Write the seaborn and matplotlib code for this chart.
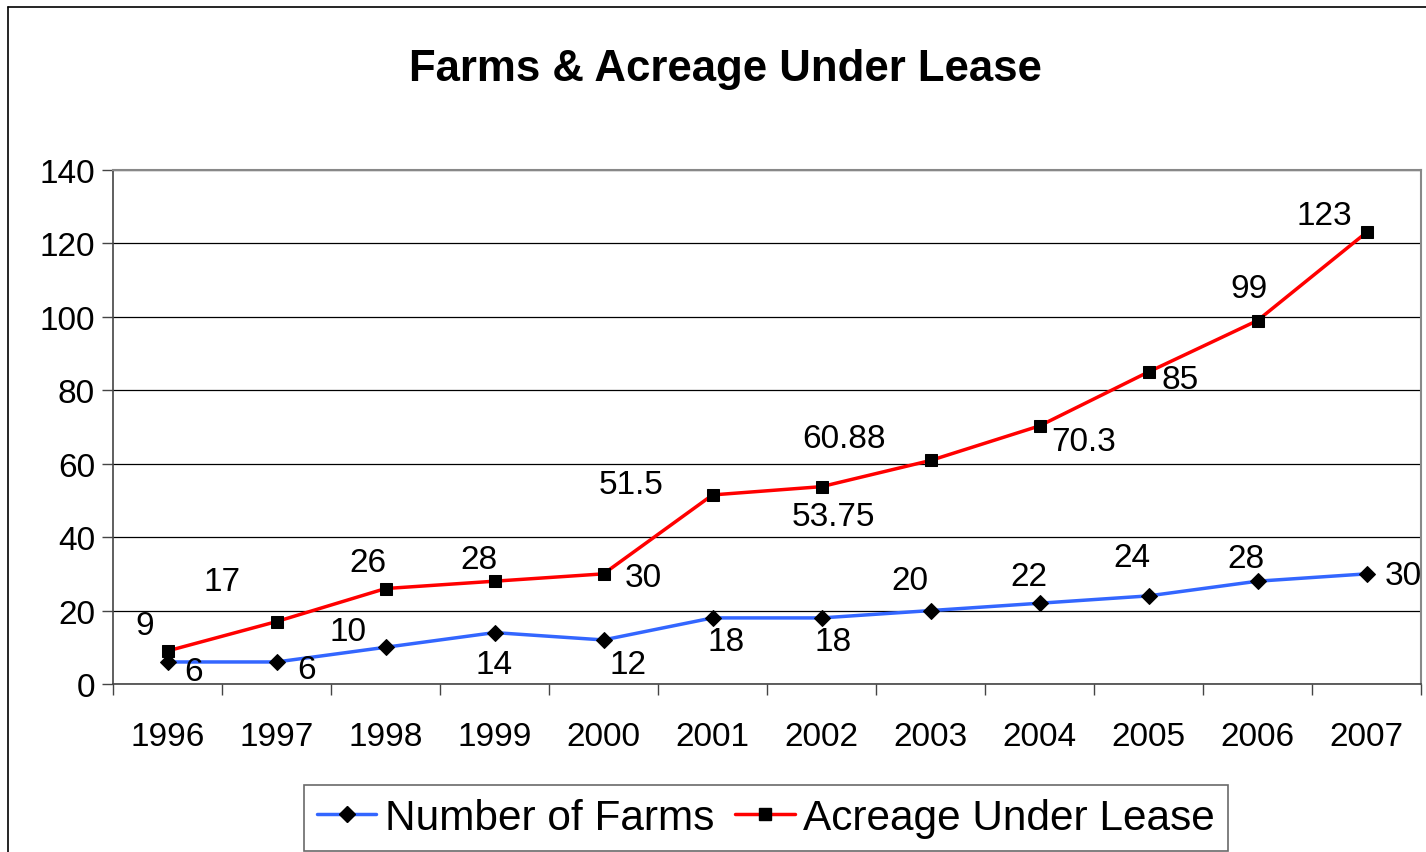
import matplotlib
matplotlib.use("Agg")
import matplotlib.pyplot as plt
from matplotlib.lines import Line2D
import seaborn as sns
import pandas as pd

years = ["1996", "1997", "1998", "1999", "2000", "2001", "2002", "2003", "2004", "2005", "2006", "2007"]
farms = [6, 6, 10, 14, 12, 18, 18, 20, 22, 24, 28, 30]
acreage = [9, 17, 26, 28, 30, 51.5, 53.75, 60.88, 70.3, 85, 99, 123]
farm_labels = ["6", "6", "10", "14", "12", "18", "18", "20", "22", "24", "28", "30"]
acre_labels = ["9", "17", "26", "28", "30", "51.5", "53.75", "60.88", "70.3", "85", "99", "123"]

# label offsets in pixels (dx, dy up)
farm_off = [(26, -10), (30, -8), (-37, 16), (0, -32), (25, -25), (14, -24), (12, -24),
            (-21, 30), (-11, 27), (-17, 38), (-12, 23), (37, -2)]
acre_off = [(-23, 25), (-55, 40), (-18, 26), (-16, 22), (40, -4), (-81, 10), (12, -30),
            (-87, 22), (44, -16), (32, -8), (-8, 32), (-42, 17)]

sns.set_theme(style="white")
plt.rcParams['font.family'] = ['Liberation Sans', 'DejaVu Sans']
plt.rcParams['text.color'] = 'black'
plt.rcParams['xtick.color'] = 'black'
plt.rcParams['ytick.color'] = 'black'
plt.rcParams['axes.labelcolor'] = 'black'

df = pd.DataFrame({
    "Year": years * 2,
    "Value": farms + acreage,
    "Series": ["Number of Farms"] * len(years) + ["Acreage Under Lease"] * len(years),
})

fig = plt.figure(figsize=(14.26, 8.53), dpi=100)
ax = fig.add_axes([113 / 1426, 1 - 685 / 853, (1421 - 113) / 1426, (685 - 171) / 853])

sns.lineplot(data=df, x="Year", y="Value", hue="Series", style="Series",
             palette={"Number of Farms": "#3366FF", "Acreage Under Lease": "#FF0000"},
             markers={"Number of Farms": "D", "Acreage Under Lease": "s"},
             dashes=False, linewidth=2.5, markersize=9, markerfacecolor="black",
             markeredgecolor="black", ax=ax, legend=False, sort=False)
lines = ax.get_lines()
for ln in lines:
    ln.set_markerfacecolor("black")
    ln.set_markeredgecolor("black")
if len(lines) >= 2:
    lines[0].set_markersize(8)
    lines[1].set_markersize(9)

for i in range(len(years)):
    ax.annotate(farm_labels[i], (i, farms[i]), xytext=farm_off[i], textcoords="offset pixels",
                ha="center", va="center", fontsize=24, color="black")
    ax.annotate(acre_labels[i], (i, acreage[i]), xytext=acre_off[i], textcoords="offset pixels",
                ha="center", va="center", fontsize=24, color="black")

ax.set_xlim(-0.5, len(years) - 0.5)
ax.set_ylim(0, 140)
ax.set_yticks(range(0, 141, 20))
ax.set_xticks(range(len(years)))
ax.set_xticklabels(years)
ax.set_xticks([i - 0.5 for i in range(len(years) + 1)], minor=True)
ax.tick_params(axis="x", which="major", length=0, pad=27, labelsize=24, labelcolor="black")
ax.tick_params(axis="x", which="minor", length=8, width=1, color="#444444", direction="out", bottom=True)
ax.tick_params(axis="y", which="major", length=8, width=1, color="#444444", direction="out", left=True,
               labelsize=24, pad=5, labelcolor="black")
ax.set_xlabel("")
ax.set_ylabel("")
ax.yaxis.grid(True, color="black", linewidth=0.9)
ax.xaxis.grid(False)
ax.set_axisbelow(True)
for s in ["top", "right"]:
    ax.spines[s].set_color("#888888")
    ax.spines[s].set_linewidth(1.5)
for s in ["left", "bottom"]:
    ax.spines[s].set_color("#444444")
    ax.spines[s].set_linewidth(1.2)

fig.text(725 / 1426, 1 - 69 / 853, "Farms & Acreage Under Lease", ha="center", va="center",
         fontsize=31.5, fontweight="bold", color="black")

handles = [
    Line2D([], [], color="#3366FF", linewidth=2.5, marker="D", markersize=8,
           markerfacecolor="black", markeredgecolor="black"),
    Line2D([], [], color="#FF0000", linewidth=2.5, marker="s", markersize=8,
           markerfacecolor="black", markeredgecolor="black"),
]
leg = fig.legend(handles, ["Number of Farms", "Acreage Under Lease"], loc="center",
                 bbox_to_anchor=(766 / 1426, 1 - 819 / 853), ncol=2, fontsize=30.5,
                 frameon=True, fancybox=False, edgecolor="#444444", handlelength=1.4,
                 handletextpad=0.2, columnspacing=0.5, borderpad=0.3, borderaxespad=0)
leg.get_frame().set_linewidth(1.2)
for t in leg.get_texts():
    t.set_color("black")

# outer chart border
fig.add_artist(Line2D([8 / 1426, 8 / 1426], [0, 1 - 8 / 853], transform=fig.transFigure,
                      color="black", linewidth=1.2))
fig.add_artist(Line2D([8 / 1426, 1], [1 - 8 / 853, 1 - 8 / 853], transform=fig.transFigure,
                      color="black", linewidth=1.2))

fig.savefig("out.png", dpi=100, facecolor="white")
